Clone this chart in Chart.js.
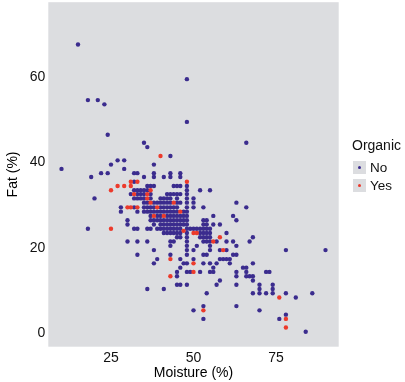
<!DOCTYPE html>
<html>
<head>
<meta charset="utf-8">
<script src="https://cdn.jsdelivr.net/npm/chart.js@4.4.1/dist/chart.umd.min.js"></script>
<style>
  html, body { margin: 0; padding: 0; background: #ffffff; }
  #wrap { position: relative; width: 405px; height: 382px; }
  canvas { position: absolute; left: 0; top: 0; }
  .lg { position: absolute; font-family: "Liberation Sans", Arial, Helvetica, sans-serif; color: #111; white-space: nowrap; }
  .lg-title { left: 352px; top: 137px; font-size: 14px; line-height: 16px; }
  .lg-key { position: absolute; width: 13px; height: 13px; background: #dcdde0; left: 353px; }
  .lg-dot { position: absolute; left: 5px; top: 5px; width: 3px; height: 3px; border-radius: 50%; }
  .lg-label { left: 370px; font-size: 13.5px; line-height: 13px; }
</style>
</head>
<body>
<div id="wrap">
  <canvas id="c" width="405" height="382"></canvas>
  <div class="lg lg-title" id="lgTitle"></div>
  <div id="lgItems"></div>
</div>
<script>
// ---- Data ----
const legendTitle = "Organic";
const groupLabels = ["No", "Yes"];
const xTicks = [25, 50, 75];
const yTicks = [0, 20, 40, 60];
const xTitle = "Moisture (%)";
const yTitle = "Fat (%)";

// Organic = No : [moisture, fat]
const organicNo = [
  [15,67.6],[48,59.5],[18,54.6],[21,54.6],[23,53.6],[48,49.5],[24,46.5],[35,44.6],[66,44.6],[36,43.6],
  [43,41.5],[27,40.5],[29,40.5],[25,39.5],[38,39.5],[10,38.5],[29,38.5],
  [22,37.5],[24,37.5],[32,37.5],[33,37.5],[38,37.5],[43,37.5],[46,37.5],
  [19,36.6],[35,36.6],[38,36.6],[41,36.6],[43,36.6],[46,36.6],
  [32,35.5],
  [36,34.5],[37,34.5],[38,34.5],[44,34.5],[45,34.5],[46,34.5],[48,34.5],
  [32,33.5],[33,33.5],[34,33.5],[35,33.5],[36,33.5],[48,33.5],[52,33.5],[55,33.5],
  [31,32.6],[33,32.6],[34,32.6],[35,32.6],[37,32.6],[42,32.6],[43,32.6],[44,32.6],[45,32.6],[46,32.6],[48,32.6],
  [20,31.6],[32,31.6],[33,31.6],[34,31.6],[35,31.6],[37,31.6],[40,31.6],[41,31.6],[42,31.6],[43,31.6],[45,31.6],[48,31.6],[50,31.6],
  [35,30.6],[36,30.6],[38,30.6],[39,30.6],[40,30.6],[41,30.6],[42,30.6],[43,30.6],[45,30.6],[46,30.6],[48,30.6],[50,30.6],[63,30.6],
  [28,29.5],[32,29.5],[35,29.5],[36,29.5],[37,29.5],[38,29.5],[40,29.5],[41,29.5],[42,29.5],[43,29.5],[44,29.5],[45,29.5],[48,29.5],[50,29.5],[53,29.5],[66,29.5],
  [28,28.5],[33,28.5],[35,28.5],[36,28.5],[37,28.5],[38,28.5],[39,28.5],[40,28.5],[41,28.5],[42,28.5],[43,28.5],[44,28.5],[45,28.5],[47,28.5],[48,28.5],
  [37,27.5],[39,27.5],[40,27.5],[42,27.5],[43,27.5],[44,27.5],[45,27.5],[46,27.5],[47,27.5],[48,27.5],[56,27.5],[62,27.5],
  [30,26.5],[37,26.5],[38,26.5],[39,26.5],[40,26.5],[41,26.5],[42,26.5],[43,26.5],[44,26.5],[45,26.5],[46,26.5],[47,26.5],[48,26.5],[53,26.5],[54,26.5],[63,26.5],
  [30,25.5],[38,25.5],[40,25.5],[41,25.5],[42,25.5],[43,25.5],[44,25.5],[45,25.5],[46,25.5],[47,25.5],[48,25.5],[53,25.5],[54,25.5],[56,25.5],[58,25.5],
  [18,24.5],[32,24.5],[33,24.5],[36,24.5],[37,24.5],[39,24.5],[40,24.5],[41,24.5],[42,24.5],[43,24.5],[44,24.5],[45,24.5],[46,24.5],[48,24.5],[49,24.5],[50,24.5],[51,24.5],[52,24.5],[53,24.5],[54,24.5],[55,24.5],
  [41,23.5],[42,23.5],[43,23.5],[44,23.5],[45,23.5],[46,23.5],[48,23.5],[52,23.5],[53,23.5],[54,23.5],[55,23.5],[60,23.5],
  [45,22.5],[46,22.5],[48,22.5],[52,22.5],[53,22.5],[54,22.5],[55,22.5],[68,22.5],
  [30,21.5],[33,21.5],[36,21.5],[43,21.5],[44,21.5],[48,21.5],[53,21.5],[54,21.5],[55,21.5],[57,21.5],[60,21.5],[62,21.5],[67,21.5],
  [43,20.5],[48,20.5],[51,20.5],[55,20.5],[63,20.5],
  [38,19.5],[48,19.5],[50,19.5],[55,19.5],[58,19.5],[60,19.5],[78,19.5],[90,19.5],
  [33,18.4],[43,18.4],[48,18.4],[53,18.4],[54,18.4],[62,18.4],[63,18.4],
  [39,17.4],[46,17.4],[50,17.4],[58,17.4],[59,17.4],[60,17.4],[61,17.4],
  [38,16.4],[47,16.4],[48,16.4],[53,16.4],[55,16.4],[57,16.4],[61,16.4],[68,16.4],
  [46,15.4],[56,15.4],[65,15.4],[66,15.4],
  [45,14.4],[48,14.4],[49,14.4],[52,14.4],[55,14.4],[56,14.4],[63,14.4],[66,14.4],[72,14.4],[73,14.4],
  [45,13.4],[63,13.4],[66,13.4],[67,13.4],[68,13.4],
  [58,12.4],[68,12.4],
  [45,11.4],[46,11.4],[48,11.4],[57,11.4],[63,11.4],[70,11.4],[74,11.4],
  [36,10.4],[41,10.4],[70,10.4],[74,10.4],
  [54,9.4],[68,9.4],[70,9.4],[72,9.4],[74,9.4],[78,9.4],[86,9.4],
  [81,8.4],[53,6.4],[63,6.4],[50,5.4],[70,5.4],[78,4.4],[53,3.4],[76,3.4],[84,0.4]
];

// Organic = Yes : [moisture, fat]
const organicYes = [
  [40,41.5],[31,35.5],[33,35.5],[48,35.5],[27,34.5],[29,34.5],[31,34.5],[25,33.5],[37,33.5],
  [32,32.6],[36,32.6],[36,31.6],[37,30.6],[44,30.6],[30,29.5],[31,29.5],[33,29.5],[39,29.5],
  [46,28.5],[38,27.5],[41,27.5],[25,24.5],[47,24.0],[50,23.5],[51,23.5],[58,22.5],[56,21.5],
  [59,19.5],[43,17.4],[50,16.4],[50,14.4],[43,13.4],[76,8.4],[53,5.4],[78,3.4],[78,1.4]
];

// ---- Styles ----
const colNo = "#3b2c8e";
const colYes = "#ec3a2b";
const panelCol = "#dcdde0";
const fontFam = '"Liberation Sans", Arial, Helvetica, sans-serif';

const panelBg = {
  id: "panelBg",
  beforeDraw(chart) {
    const { ctx, chartArea: a } = chart;
    ctx.save();
    ctx.fillStyle = panelCol;
    ctx.fillRect(a.left, a.top, a.right - a.left, a.bottom - a.top);
    ctx.restore();
  }
};

new Chart(document.getElementById("c"), {
  type: "scatter",
  data: {
    datasets: [
      { label: groupLabels[1], data: organicYes.map(p => ({ x: p[0], y: p[1] })),
        backgroundColor: colYes, borderWidth: 0, pointRadius: 2.2, pointHoverRadius: 2.2, order: 0 },
      { label: groupLabels[0], data: organicNo.map(p => ({ x: p[0], y: p[1] })),
        backgroundColor: colNo, borderWidth: 0, pointRadius: 2.2, pointHoverRadius: 2.2, order: 1 }
    ]
  },
  options: {
    responsive: false,
    animation: false,
    events: [],
    layout: { padding: { top: 0, left: 0, right: 66.3, bottom: 0 } },
    plugins: { legend: { display: false }, tooltip: { enabled: false } },
    scales: {
      x: {
        type: "linear", min: 6, max: 94,
        afterBuildTicks: s => { s.ticks = xTicks.map(v => ({ value: v })); },
        afterFit: s => { s.height = 35.3; s.paddingLeft = 0; s.paddingRight = 0; },
        grid: { display: false, drawTicks: false },
        border: { display: false },
        ticks: { padding: 3, color: "#111", font: { family: fontFam, size: 14 }, maxRotation: 0 },
        title: { display: true, text: xTitle, color: "#000", font: { family: fontFam, size: 14 }, padding: { top: 0, bottom: 0 } }
      },
      y: {
        type: "linear", min: -3.1, max: 77.5,
        afterBuildTicks: s => { s.ticks = yTicks.map(v => ({ value: v })); },
        afterFit: s => { s.width = 48.3; s.paddingTop = 0; s.paddingBottom = 0; },
        grid: { display: false, drawTicks: false },
        border: { display: false },
        ticks: { padding: 3, color: "#111", font: { family: fontFam, size: 14 } },
        title: { display: true, text: yTitle, color: "#000", font: { family: fontFam, size: 14 }, padding: { top: 5, bottom: 0 } }
      }
    }
  },
  plugins: [panelBg]
});

// ---- Legend (HTML text) ----
document.getElementById("lgTitle").textContent = legendTitle;
const items = document.getElementById("lgItems");
const keyTops = [161, 179];
const keyCols = [colNo, colYes];
groupLabels.forEach((lab, i) => {
  const key = document.createElement("div");
  key.className = "lg-key";
  key.style.top = keyTops[i] + "px";
  const dot = document.createElement("div");
  dot.className = "lg-dot";
  dot.style.background = keyCols[i];
  key.appendChild(dot);
  items.appendChild(key);
  const t = document.createElement("div");
  t.className = "lg lg-label";
  t.style.top = keyTops[i] + "px";
  t.textContent = lab;
  items.appendChild(t);
});
</script>
</body>
</html>
